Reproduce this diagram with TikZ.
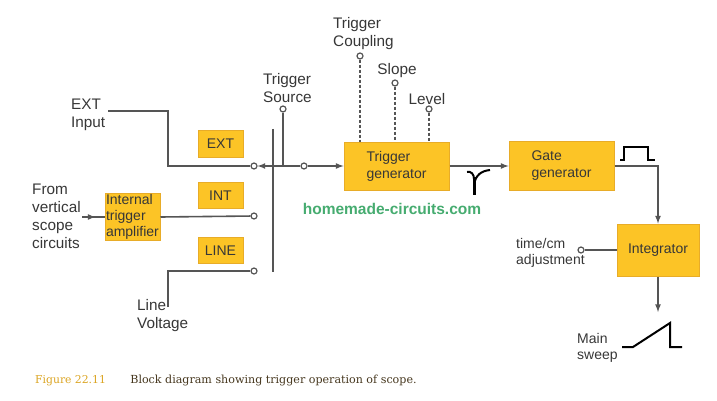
\documentclass[tikz,border=0pt]{standalone}
\usepackage{fontspec}
\setmainfont{Liberation Sans}
\newfontfamily\capfont{DejaVu Serif}
\usetikzlibrary{calc}
\definecolor{boxfill}{RGB}{252,196,38}
\definecolor{boxedge}{RGB}{232,172,40}
\definecolor{wiregray}{RGB}{85,85,85}
\definecolor{txt}{RGB}{55,55,55}
\definecolor{webgreen}{RGB}{70,172,112}
\definecolor{figgold}{RGB}{220,165,35}
\definecolor{captxt}{RGB}{70,55,30}
\begin{document}
\begin{tikzpicture}[x=1pt,y=-1pt,>=latex,
      font=\fontsize{14}{17}\selectfont,
      block/.style={draw=boxedge,fill=boxfill,line width=1pt,text=txt,align=left},
      tag/.style={block,minimum width=45,minimum height=26,inner sep=1pt},
      tap/.style={circle,draw=wiregray,fill=white,line width=1.2pt,inner sep=0pt,minimum size=6},
      wire/.style={draw=wiregray,line width=1.6pt},
      lbl/.style={text=txt,align=left,inner sep=0pt,font=\fontsize{15.3}{18}\selectfont},
      small lbl/.style={lbl,font=\fontsize{14}{16}\selectfont}]
    \useasboundingbox[fill=white] (0,0) rectangle (717,401);

    % blocks
    \node[block,minimum width=105,minimum height=48] (trig) at (396.5,166) {Trigger\\generator};
    \node[block,minimum width=105,minimum height=49] (gate) at (561.5,166) {Gate\\generator};
    \node[block,minimum width=82,minimum height=52,align=center] (integ) at (658,250) {Integrator};
    \node[block,text width=53,inner sep=1pt,font=\fontsize{14}{16}\selectfont] (amp) at (132.5,217) {Internal\\trigger\\amplifier};
    \node[tag] (ext) at (220.5,144) {EXT};
    \node[tag] (int) at (220.5,195.5) {INT};
    \node[tag] (line) at (220.5,250.5) {LINE};

    % labels
    \node[lbl,anchor=west] (extin) at (71,115) {EXT\\Input};
    \node[lbl,anchor=west] (fromv) at (32,216.5) {From\\vertical\\scope\\circuits};
    \node[lbl,anchor=west] (linev) at (137,316) {Line\\Voltage};
    \node[lbl,anchor=west] (srclbl) at (263,88) {Trigger\\Source};
    \node[lbl,anchor=west] (couplbl) at (333,34) {Trigger\\Coupling};
    \node[lbl] (slopelbl) at (397,71) {Slope};
    \node[lbl] (levellbl) at (427,99) {Level};
    \node[small lbl,anchor=west] (timelbl) at (516,253) {time/cm\\adjustment};
    \node[small lbl,anchor=west] (sweeplbl) at (577,348) {Main\\sweep};

    % contacts
    \node[tap] (cExt) at (254,166) {};
    \node[tap] (cInt) at (254,216) {};
    \node[tap] (cLine) at (254,271) {};
    \node[tap] (cOut) at (304,166) {};
    \node[tap] (cSrc) at (283,109) {};
    \node[tap] (cCoup) at (360,56) {};
    \node[tap] (cSlope) at (395,83) {};
    \node[tap] (cLevel) at (429,109) {};
    \node[tap] (cTime) at (581,250) {};

    \coordinate (barT) at (273,129);
    \coordinate (barB) at (273,272);
    \coordinate (extinEnd) at (108,111);
    \coordinate (bendA) at (168,166);
    \coordinate (lvEnd) at (168,307);
    \coordinate (ampIn) at (82,217);
    \coordinate (sweepTop) at (658,312);

    % selector switch
    \draw[draw=wiregray,line width=2.6pt] (barT) -- (barB);
    \draw[wire] (extinEnd) -| (bendA) -- (cExt);
    \draw[wire] (amp.east) -- (cInt);
    \draw[wire] (lvEnd) |- (cLine);
    \draw[wire,->] (barT |- cExt) -- (cExt);
    \draw[wire] (barT |- cExt) -- (cOut);
    \draw[wire] (cSrc) -- (cSrc |- cOut);
    \draw[wire] (ampIn) -- (amp.west);
    \draw[wire,->] (ampIn) -- ($(ampIn)!0.6!(amp.west)$);

    % signal path
    \draw[wire,->] (cOut) -- (trig.west);
    \draw[wire,->] (trig.east) -- (gate.west);
    \draw[wire,->] (gate.east) -| (integ.north);
    \draw[wire,->] (integ.south) -- (sweepTop);
    \draw[wire] (cTime) -- (integ.west);

    % front panel controls
    \draw[wire,dash pattern=on 3pt off 2pt] (cCoup) -- (cCoup |- trig.north);
    \draw[wire,dash pattern=on 3pt off 2pt] (cSlope) -- (cSlope |- trig.north);
    \draw[wire,dash pattern=on 3pt off 2pt] (cLevel) -- (cLevel |- trig.north);

    % waveforms
    \draw[line width=2pt] (467,172) .. controls (471,171) and (474,174) .. (474,179);
    \draw[line width=3pt] (474,177) -- (474,195);
    \draw[line width=2pt] (474,184) .. controls (476,175) and (481,171) .. (490,170);
    \draw[line width=2pt] (620,160) -- (624,160) -- (624,147) -- (648,147) -- (648,160) -- (655,160);
    \draw[line width=2pt] (622,347) -- (633,347) -- (670,323) -- (670,347) -- (682,347);

    \node[text=webgreen,font=\bfseries\fontsize{15.5}{18}\selectfont] (web) at (392,209) {homemade-circuits.com};
    \node[anchor=west,inner sep=0pt,text=captxt,font=\capfont\fontsize{11.1}{13}\selectfont] (cap) at (35,381)
      {\textcolor{figgold}{\fontsize{10.8}{13}\selectfont Figure 22.11}\hspace{2.2em}Block diagram showing trigger operation of scope.};
  \end{tikzpicture}
\end{document}
